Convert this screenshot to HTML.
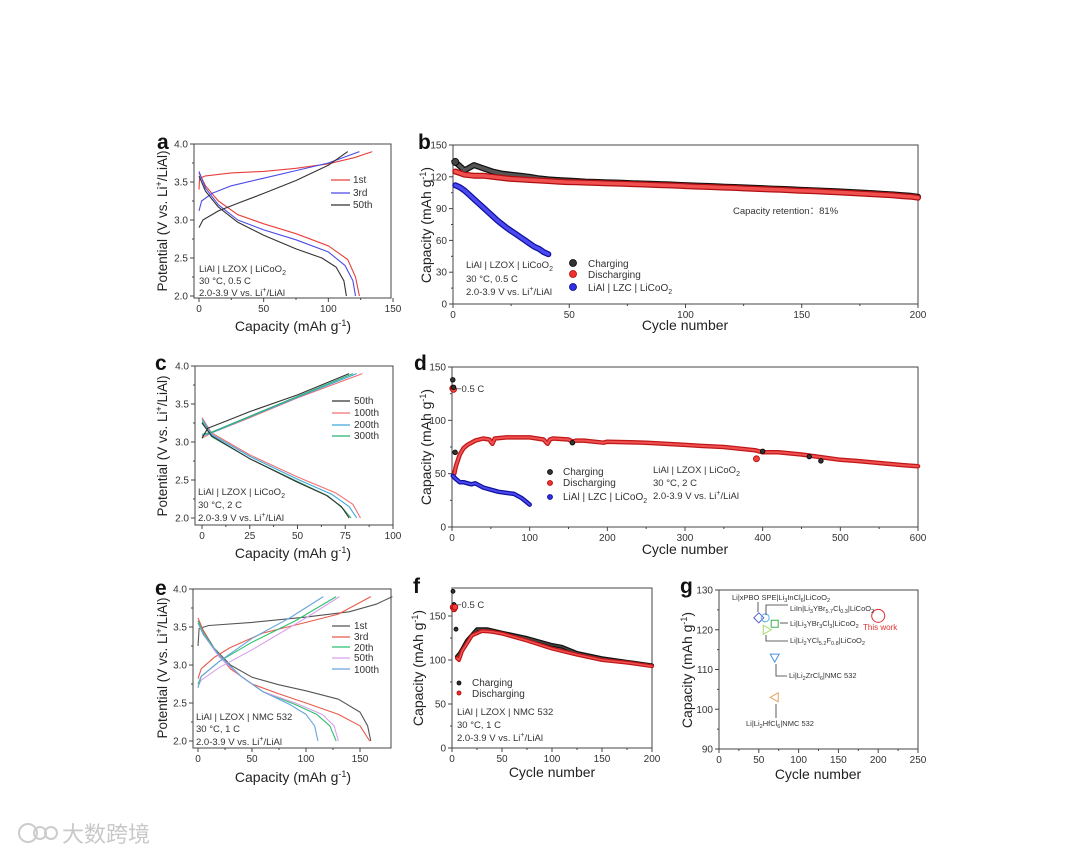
<!DOCTYPE html>
<html><head><meta charset="utf-8"><style>
html,body{margin:0;padding:0;background:#fff}
svg{display:block;font-family:"Liberation Sans","Noto Sans CJK SC",sans-serif}
.t{font-size:10px;fill:#333}
.ti{font-size:14px;fill:#222}
.tv{font-size:13.5px;fill:#222}
.an{font-size:9.5px;fill:#333}
.lg{font-size:10px;fill:#333}
.gl{font-size:7.5px;fill:#333}
.pl{font-size:21px;font-weight:bold;fill:#111}
</style></head><body>
<svg id="fig" width="1080" height="854" viewBox="0 0 1080 854" xmlns="http://www.w3.org/2000/svg">
<rect width="1080" height="854" fill="#fff"/>
<g id="layer"></g>
<text class="pl" x="157" y="149">a</text>
<text class="pl" x="418" y="149">b</text>
<text class="pl" x="155" y="370">c</text>
<text class="pl" x="414" y="370">d</text>
<text class="pl" x="155" y="595">e</text>
<text class="pl" x="413" y="593">f</text>
<text class="pl" x="680" y="593">g</text>
<text class="ti" x="293" y="331" text-anchor="middle">Capacity (mAh g<tspan dy="-5" font-size="9">-1</tspan><tspan dy="5">)</tspan></text>
<text class="ti" x="685" y="330" text-anchor="middle">Cycle number</text>
<text class="ti" x="293" y="558" text-anchor="middle">Capacity (mAh g<tspan dy="-5" font-size="9">-1</tspan><tspan dy="5">)</tspan></text>
<text class="ti" x="685" y="554" text-anchor="middle">Cycle number</text>
<text class="ti" x="293" y="782" text-anchor="middle">Capacity (mAh g<tspan dy="-5" font-size="9">-1</tspan><tspan dy="5">)</tspan></text>
<text class="ti" x="552" y="777" text-anchor="middle">Cycle number</text>
<text class="ti" x="818" y="779" text-anchor="middle">Cycle number</text>
<text class="tv" transform="translate(167,221) rotate(-90)" text-anchor="middle">Potential (V vs. Li<tspan dy="-5" font-size="9">+</tspan><tspan dy="5">/LiAl)</tspan></text>
<text class="ti" transform="translate(431,225) rotate(-90)" text-anchor="middle">Capacity (mAh g<tspan dy="-5" font-size="9">-1</tspan><tspan dy="5">)</tspan></text>
<text class="tv" transform="translate(167,446) rotate(-90)" text-anchor="middle">Potential (V vs. Li<tspan dy="-5" font-size="9">+</tspan><tspan dy="5">/LiAl)</tspan></text>
<text class="ti" transform="translate(431,447) rotate(-90)" text-anchor="middle">Capacity (mAh g<tspan dy="-5" font-size="9">-1</tspan><tspan dy="5">)</tspan></text>
<text class="tv" transform="translate(167,668) rotate(-90)" text-anchor="middle">Potential (V vs. Li<tspan dy="-5" font-size="9">+</tspan><tspan dy="5">/LiAl)</tspan></text>
<text class="ti" transform="translate(423,668) rotate(-90)" text-anchor="middle">Capacity (mAh g<tspan dy="-5" font-size="9">-1</tspan><tspan dy="5">)</tspan></text>
<text class="ti" transform="translate(692,670) rotate(-90)" text-anchor="middle">Capacity (mAh g<tspan dy="-5" font-size="9">-1</tspan><tspan dy="5">)</tspan></text>
<g class="an">
<text x="199" y="272">LiAl | LZOX | LiCoO<tspan dy="3" font-size="7">2</tspan></text>
<text x="199" y="284">30 °C, 0.5 C</text>
<text x="199" y="296">2.0-3.9 V vs. Li<tspan dy="-4" font-size="7">+</tspan><tspan dy="4">/LiAl</tspan></text>
</g>
<g class="an">
<text x="466" y="268">LiAl | LZOX | LiCoO<tspan dy="3" font-size="7">2</tspan></text>
<text x="466" y="282">30 °C, 0.5 C</text>
<text x="466" y="295">2.0-3.9 V vs. Li<tspan dy="-4" font-size="7">+</tspan><tspan dy="4">/LiAl</tspan></text>
</g>
<text class="an" x="733" y="214">Capacity retention：81%</text>
<g class="an">
<text x="198" y="495">LiAl | LZOX | LiCoO<tspan dy="3" font-size="7">2</tspan></text>
<text x="198" y="508">30 °C, 2 C</text>
<text x="198" y="521">2.0-3.9 V vs. Li<tspan dy="-4" font-size="7">+</tspan><tspan dy="4">/LiAl</tspan></text>
</g>
<g class="an">
<text x="653" y="473">LiAl | LZOX | LiCoO<tspan dy="3" font-size="7">2</tspan></text>
<text x="653" y="486">30 °C, 2 C</text>
<text x="653" y="499">2.0-3.9 V vs. Li<tspan dy="-4" font-size="7">+</tspan><tspan dy="4">/LiAl</tspan></text>
</g>
<text class="an" x="456" y="392">−0.5 C</text>
<g class="an">
<text x="196" y="720">LiAl | LZOX | NMC 532</text>
<text x="196" y="732">30 °C, 1 C</text>
<text x="196" y="745">2.0-3.9 V vs. Li<tspan dy="-4" font-size="7">+</tspan><tspan dy="4">/LiAl</tspan></text>
</g>
<g class="an">
<text x="457" y="715">LiAl | LZOX | NMC 532</text>
<text x="457" y="728">30 °C, 1 C</text>
<text x="457" y="741">2.0-3.9 V vs. Li<tspan dy="-4" font-size="7">+</tspan><tspan dy="4">/LiAl</tspan></text>
</g>
<text class="an" x="456" y="608">−0.5 C</text>
<g class="lg">
<text x="353" y="183">1st</text><text x="353" y="196">3rd</text><text x="353" y="208">50th</text>
</g>
<g class="lg">
<text x="588" y="267">Charging</text><text x="588" y="278">Discharging</text><text x="588" y="291">LiAl | LZC | LiCoO<tspan dy="3" font-size="7">2</tspan></text>
</g>
<g class="lg">
<text x="354" y="404">50th</text><text x="354" y="416">100th</text><text x="354" y="428">200th</text><text x="354" y="439">300th</text>
</g>
<g class="lg">
<text x="563" y="475">Charging</text><text x="563" y="486">Discharging</text><text x="563" y="500">LiAl | LZC | LiCoO<tspan dy="3" font-size="7">2</tspan></text>
</g>
<g class="lg">
<text x="354" y="629">1st</text><text x="354" y="640">3rd</text><text x="354" y="651">20th</text><text x="354" y="661">50th</text><text x="354" y="673">100th</text>
</g>
<g class="lg">
<text x="472" y="686">Charging</text><text x="472" y="697">Discharging</text>
</g>
<g class="gl">
<text x="732" y="600">Li|xPBO SPE|Li<tspan dy="2" font-size="5.5">3</tspan><tspan dy="-2">InCl</tspan><tspan dy="2" font-size="5.5">6</tspan><tspan dy="-2">|LiCoO</tspan><tspan dy="2" font-size="5.5">2</tspan></text>
<text x="790" y="611">LiIn|Li<tspan dy="2" font-size="5.5">3</tspan><tspan dy="-2">YBr</tspan><tspan dy="2" font-size="5.5">5.7</tspan><tspan dy="-2">Cl</tspan><tspan dy="2" font-size="5.5">0.3</tspan><tspan dy="-2">|LiCoO</tspan><tspan dy="2" font-size="5.5">2</tspan></text>
<text x="790" y="626">Li|Li<tspan dy="2" font-size="5.5">3</tspan><tspan dy="-2">YBr</tspan><tspan dy="2" font-size="5.5">3</tspan><tspan dy="-2">Cl</tspan><tspan dy="2" font-size="5.5">3</tspan><tspan dy="-2">|LiCoO</tspan><tspan dy="2" font-size="5.5">2</tspan></text>
<text x="790" y="643">Li|Li<tspan dy="2" font-size="5.5">2</tspan><tspan dy="-2">YCl</tspan><tspan dy="2" font-size="5.5">5.2</tspan><tspan dy="-2">F</tspan><tspan dy="2" font-size="5.5">0.8</tspan><tspan dy="-2">|LiCoO</tspan><tspan dy="2" font-size="5.5">2</tspan></text>
<text x="789" y="678">Li|Li<tspan dy="2" font-size="5.5">2</tspan><tspan dy="-2">ZrCl</tspan><tspan dy="2" font-size="5.5">6</tspan><tspan dy="-2">|NMC 532</tspan></text>
<text x="746" y="726">Li|Li<tspan dy="2" font-size="5.5">2</tspan><tspan dy="-2">HfCl</tspan><tspan dy="2" font-size="5.5">6</tspan><tspan dy="-2">|NMC 532</tspan></text>
<text x="863" y="630" fill="#e03030" style="fill:#e03030;font-size:8px">This work</text>
</g>
<g stroke="#333" stroke-width="0.8" fill="none">
<path d="M758 602V612"/><path d="M766 615V605H788"/><path d="M780 623H788"/><path d="M766 635V641H788"/><path d="M776 664V676H787"/><path d="M776 704V718"/>
</g>
<g fill="none" stroke="#ccc" stroke-width="2">
<circle cx="28" cy="833" r="9"/><circle cx="40" cy="833" r="6"/><circle cx="51" cy="833" r="6"/>
</g>
<text x="62" y="842" font-size="22" fill="#c8c8c8">大数跨境</text>
</svg>
<script>
const aXTicks=[0,50,100,150], aYTicks=[2.0,2.5,3.0,3.5,4.0];
const bXTicks=[0,50,100,150,200], bYTicks=[0,30,60,90,120,150];
const cXTicks=[0,25,50,75,100], cYTicks=[2.0,2.5,3.0,3.5,4.0];
const dXTicks=[0,100,200,300,400,500,600], dYTicks=[0,50,100,150];
const eXTicks=[0,50,100,150], eYTicks=[2.0,2.5,3.0,3.5,4.0];
const fXTicks=[0,50,100,150,200], fYTicks=[0,50,100,150];
const gXTicks=[0,50,100,150,200,250], gYTicks=[90,100,110,120,130];
const a1Charge=[[0,3.40],[0.5,3.55],[5,3.58],[25,3.62],[50,3.64],[75,3.68],[100,3.74],[120,3.82],[134,3.90]];
const a1Dis=[[0,3.62],[5,3.45],[15,3.25],[30,3.07],[50,2.95],[75,2.82],[100,2.66],[115,2.48],[121,2.25],[124,2.0]];
const a3Charge=[[0,3.12],[2,3.25],[10,3.35],[25,3.45],[50,3.55],[75,3.65],[100,3.75],[124,3.90]];
const a3Dis=[[0,3.64],[5,3.42],[15,3.20],[30,3.00],[50,2.87],[75,2.74],[100,2.58],[113,2.40],[119,2.2],[121,2.0]];
const a50Charge=[[0,2.90],[3,3.0],[15,3.12],[30,3.22],[50,3.35],[75,3.52],[100,3.72],[115,3.90]];
const a50Dis=[[0,3.58],[5,3.38],[15,3.17],[30,2.97],[50,2.80],[75,2.62],[95,2.50],[106,2.38],[112,2.2],[114,2.0]];
const c50Charge=[[0,3.05],[3,3.18],[15,3.30],[25,3.40],[50,3.62],[77,3.90]];
const c50Dis=[[0,3.25],[5,3.08],[25,2.78],[50,2.47],[65,2.30],[73,2.15],[77,2.0]];
const c100Charge=[[0,3.05],[5,3.12],[25,3.32],[50,3.58],[84,3.90]];
const c100Dis=[[0,3.32],[5,3.12],[25,2.83],[50,2.54],[70,2.33],[79,2.18],[83,2.0]];
const c200Charge=[[0,3.08],[5,3.12],[25,3.33],[50,3.59],[81,3.90]];
const c200Dis=[[0,3.30],[5,3.10],[25,2.81],[50,2.51],[68,2.31],[77,2.15],[81,2.0]];
const c300Charge=[[0,3.10],[5,3.13],[25,3.34],[50,3.60],[79,3.90]];
const c300Dis=[[0,3.27],[5,3.07],[25,2.78],[50,2.48],[66,2.29],[74,2.12],[78,2.0]];
const e1Charge=[[0,3.25],[1,3.48],[10,3.52],[50,3.56],[100,3.63],[140,3.70],[165,3.80],[180,3.90]];
const e1Dis=[[0,3.58],[5,3.45],[15,3.22],[30,3.00],[50,2.84],[75,2.74],[100,2.66],[130,2.55],[150,2.38],[157,2.2],[160,2.0]];
const e3Charge=[[0,2.82],[3,2.95],[15,3.10],[30,3.23],[60,3.42],[100,3.56],[130,3.67],[160,3.90]];
const e3Dis=[[0,3.62],[5,3.45],[15,3.20],[30,2.95],[50,2.75],[75,2.62],[100,2.50],[130,2.35],[150,2.2],[159,2.0]];
const e20Charge=[[0,2.75],[3,2.85],[20,3.05],[50,3.30],[90,3.58],[128,3.90]];
const e20Dis=[[0,3.58],[5,3.42],[20,3.12],[40,2.85],[60,2.65],[90,2.48],[110,2.35],[122,2.2],[128,2.0]];
const e50Charge=[[0,2.72],[3,2.80],[20,2.97],[50,3.20],[100,3.62],[131,3.90]];
const e50Dis=[[0,3.55],[5,3.40],[20,3.10],[40,2.85],[60,2.65],[90,2.50],[115,2.35],[126,2.2],[130,2.0]];
const e100Charge=[[0,2.70],[3,2.85],[20,3.05],[50,3.35],[85,3.62],[116,3.90]];
const e100Dis=[[0,3.55],[5,3.40],[20,3.12],[40,2.85],[60,2.65],[85,2.48],[100,2.35],[108,2.2],[111,2.0]];
const bCycles=[1,5,9,13,17,21,25,29,33,37,41,45,49,53,57,61,65,69,73,77,81,85,89,93,97,101,105,109,113,117,121,125,129,133,137,141,145,149,153,157,161,165,169,173,177,181,185,189,193,197,200];
const bDis=[125,122,121,121,120,119,118,117.5,117,116.5,116,115.5,115,114.8,114.5,114.2,114,113.7,113.4,113.1,112.8,112.5,112.2,111.9,111.5,111.1,110.8,110.5,110.1,109.8,109.5,109.1,108.8,108.4,108,107.7,107.3,106.9,106.6,106.2,105.8,105.4,105,104.5,104,103.5,103,102.5,101.8,101.2,100.3];
const bChg=[134,126,131,128,125,123,122,121,120,118.5,117.5,117,116.5,116,115.5,115.2,114.9,114.6,114.3,114,113.7,113.4,113.1,112.8,112.4,112,111.7,111.4,111,110.7,110.4,110,109.7,109.3,108.9,108.6,108.2,107.8,107.5,107.1,106.7,106.3,105.9,105.4,104.9,104.4,103.9,103.4,102.7,102.1,101.2];
const bLzcCycles=[1,3,5,7,9,11,13,15,17,19,21,23,25,27,29,31,33,35,37,39,41];
const bLzc=[112,110,107,103,99,95,91,87,83,79,75.5,72,69,66,63,60,57,54,52,49,47];
const dCycles=[1,2,3,5,10,15,20,30,40,48,52,55,70,100,118,123,126,130,150,155,160,170,195,200,250,300,320,350,390,400,420,450,470,500,520,550,580,600];
const dDis=[130,129,50,57,68,74,77,81,83,82,78,83,84,84,82,78,82,83,82,80,81,81,79,80,79,77,76,75,72,70,70,68,66,63,62,60,58,57];
const dChgCycles=[1,2,4,155,400,460,475];
const dChg=[138,131,70,79,71,66,62];
const dOutCycles=[392];
const dOut=[64];
const dLzcCycles=[1,5,10,15,20,25,30,40,50,60,70,80,85,90,95,100];
const dLzc=[48,45,42,42,41,40,41,37,35,33,32,31,29,27,24,21];
const fChgCycles=[1,2,3,4,5,8,15,25,35,50,75,100,110,125,150,175,200];
const fChg=[178,163,160,135,104,108,122,135,135,131,125,117,115,108,102,98,94];
const fDisCycles=[1,2,3,5,7,10,20,30,40,50,75,100,125,150,175,200];
const fDis=[160,158,160,102,100,110,128,133,132,130,122,113,106,100,97,93];
const gCycles=[50,58,70,60,70,70,200];
const gCaps=[123,123,121.5,120,113,103,123.5];
const gShapes=['diamond','circle','square','right','down','left','bigcircle'];
const gColors=['#5a5ad8','#5ab4e8','#3cb24a','#a6d86a','#4a92dc','#e8a060','#e03030'];

const NS='http://www.w3.org/2000/svg';
const layer=document.getElementById('layer');
function mk(tag,name,attrs,parent){
  const e=document.createElementNS(NS,tag);
  
  
  for(const k in attrs) e.setAttribute(k,attrs[k]);
  (parent||layer).appendChild(e);
  return e;
}
function panel(id,box,xd,xp,yd,yp,xt,yt,dec){
  const X=v=>xp[0]+(v-xd[0])*(xp[1]-xp[0])/(xd[1]-xd[0]);
  const Y=v=>yp[0]+(v-yd[0])*(yp[1]-yp[0])/(yd[1]-yd[0]);
  const g=mk('g',id+'-panel',{});
  const [l,t,r,b]=box;
  mk('rect',id+'-plot-frame',{x:l,y:t,width:r-l,height:b-t,fill:'none',stroke:'#444','stroke-width':1},g);
  xt.forEach((v,i)=>{
    const x=X(v);
    mk('line',id+'-x-tick',{x1:x,x2:x,y1:b,y2:b+4,stroke:'#444','stroke-width':1},g);
    const tx=mk('text',id+'-x-tick-label',{x:x,y:b+14,'text-anchor':'middle',class:'t'},g);
    tx.textContent=v;
    if(i<xt.length-1){const xm=X((v+xt[i+1])/2);
      mk('line',id+'-x-minor-tick',{x1:xm,x2:xm,y1:b,y2:b+2,stroke:'#444','stroke-width':1},g);}
  });
  yt.forEach((v,i)=>{
    const y=Y(v);
    mk('line',id+'-y-tick',{x1:l-4,x2:l,y1:y,y2:y,stroke:'#444','stroke-width':1},g);
    const ty=mk('text',id+'-y-tick-label',{x:l-6,y:y+3.5,'text-anchor':'end',class:'t'},g);
    ty.textContent=dec?v.toFixed(1):v;
    if(i<yt.length-1){const ym=Y((v+yt[i+1])/2);
      mk('line',id+'-y-minor-tick',{x1:l-2,x2:l,y1:ym,y2:ym,stroke:'#444','stroke-width':1},g);}
  });
  return {X,Y,g};
}
function curve(P,pts,color,name){
  const d=pts.map((p,i)=>(i?'L':'M')+P.X(p[0]).toFixed(1)+' '+P.Y(p[1]).toFixed(1)).join('');
  mk('path',name,{d:d,fill:'none',stroke:color,'stroke-width':1.1,'stroke-linejoin':'round'},P.g);
}
function band(P,xs,ys,fill,stroke,name,w){
  const d=xs.map((c,i)=>(i?'L':'M')+P.X(c).toFixed(1)+' '+P.Y(ys[i]).toFixed(1)).join('');
  mk('path',name+'-band',{d:d,fill:'none',stroke:stroke,'stroke-width':w||6,'stroke-linecap':'round','stroke-linejoin':'round'},P.g);
  mk('path',name+'-band-core',{d:d,fill:'none',stroke:fill,'stroke-width':(w||6)-2.5,'stroke-linecap':'round','stroke-linejoin':'round'},P.g);
}
function dots(P,xs,ys,fill,stroke,name,r){
  xs.forEach((c,i)=>{
    mk('circle',name,{cx:P.X(c),cy:P.Y(ys[i]),r:r||3,fill:fill,stroke:stroke,'stroke-width':0.8},P.g);
  });
}
function legLine(P,x1,x2,y,color,name){
  mk('line',name,{x1:x1,x2:x2,y1:y,y2:y,stroke:color,'stroke-width':1.3},P.g);
}
const ID={X:v=>v,Y:v=>v};
const RED='#e8413c',BLUE='#4a4ae8',BLK='#333';
const A=panel('a',[194,144,391,298],[0,150],[199,393],[4,2],[144,296],aXTicks,aYTicks,true);
curve(A,a1Charge,RED,'a-1st-charge');curve(A,a1Dis,RED,'a-1st-discharge');
curve(A,a3Charge,BLUE,'a-3rd-charge');curve(A,a3Dis,BLUE,'a-3rd-discharge');
curve(A,a50Charge,BLK,'a-50th-charge');curve(A,a50Dis,BLK,'a-50th-discharge');
legLine(A,331,350,180,RED,'a-legend-1st');legLine(A,331,350,193,BLUE,'a-legend-3rd');legLine(A,331,350,205,BLK,'a-legend-50th');
const B=panel('b',[453,145,918,304],[0,200],[453,918],[150,0],[145,304],bXTicks,bYTicks,false);
band(B,bCycles,bChg,'#555','#111','b-charging');
band(B,bCycles,bDis,'#f05050','#b01010','b-discharging');
band(B,bLzcCycles,bLzc,'#4a4af0','#1010a0','b-lzc');
dots(B,[1],[134],'#444','#000','b-charging-first',3.5);
dots({X:ID.X,Y:ID.Y,g:B.g},[573],[263],'#333','#000','b-legend-charging-marker',3.5);
dots({X:ID.X,Y:ID.Y,g:B.g},[573],[274],'#f03030','#a00','b-legend-discharging-marker',3.5);
dots({X:ID.X,Y:ID.Y,g:B.g},[573],[287],'#3030e0','#008','b-legend-lzc-marker',3.5);
const C=panel('c',[195,366,393,525],[0,100],[202,393],[4,2],[366,518],cXTicks,cYTicks,true);
const GREEN='#2fb070',SKY='#3aa8e0',PINK='#f07070';
curve(C,c100Charge,PINK,'c-100th-charge');curve(C,c100Dis,PINK,'c-100th-discharge');
curve(C,c200Charge,SKY,'c-200th-charge');curve(C,c200Dis,SKY,'c-200th-discharge');
curve(C,c300Charge,GREEN,'c-300th-charge');curve(C,c300Dis,GREEN,'c-300th-discharge');
curve(C,c50Charge,BLK,'c-50th-charge');curve(C,c50Dis,BLK,'c-50th-discharge');
legLine(C,332,350,401,BLK,'c-legend-50th');legLine(C,332,350,413,PINK,'c-legend-100th');legLine(C,332,350,425,SKY,'c-legend-200th');legLine(C,332,350,436,GREEN,'c-legend-300th');
const D=panel('d',[452,367,918,527],[0,600],[452,918],[150,0],[367,527],dXTicks,dYTicks,false);
band(D,dCycles.slice(2),dDis.slice(2),'#f05050','#c01818','d-discharging',4.5);
dots(D,dCycles.slice(0,2),dDis.slice(0,2),'#f04040','#a00','d-discharging-0p5c',3);
dots(D,dChgCycles,dChg,'#333','#000','d-charging',2.3);
dots(D,dOutCycles,dOut,'#f04040','#a00','d-discharging-outlier',3);
band(D,dLzcCycles,dLzc,'#4a4af0','#1010a0','d-lzc',4.5);
dots({X:ID.X,Y:ID.Y,g:D.g},[550],[472],'#333','#000','d-legend-charging-marker',2.5);
dots({X:ID.X,Y:ID.Y,g:D.g},[550],[483],'#f03030','#a00','d-legend-discharging-marker',2.5);
dots({X:ID.X,Y:ID.Y,g:D.g},[550],[497],'#3030e0','#008','d-legend-lzc-marker',2.5);
const E=panel('e',[193,589,391,748],[0,150],[198,360],[4,2],[589,741],eXTicks,eYTicks,true);
const E1='#555',E3='#e85a4a',E20='#2cc070',E50='#d8a0ec',E100='#6aa4dc';
curve(E,e1Charge,E1,'e-1st-charge');curve(E,e1Dis,E1,'e-1st-discharge');
curve(E,e3Charge,E3,'e-3rd-charge');curve(E,e3Dis,E3,'e-3rd-discharge');
curve(E,e20Charge,E20,'e-20th-charge');curve(E,e20Dis,E20,'e-20th-discharge');
curve(E,e50Charge,E50,'e-50th-charge');curve(E,e50Dis,E50,'e-50th-discharge');
curve(E,e100Charge,E100,'e-100th-charge');curve(E,e100Dis,E100,'e-100th-discharge');
legLine(E,332,350,626,E1,'e-legend-1st');legLine(E,332,350,637,E3,'e-legend-3rd');legLine(E,332,350,647,E20,'e-legend-20th');legLine(E,332,350,658,E50,'e-legend-50th');legLine(E,332,350,669,E100,'e-legend-100th');
const F=panel('f',[452,588,652,748],[0,200],[452,652],[0,150],[748,616],fXTicks,fYTicks,false);
band(F,fChgCycles.slice(4),fChg.slice(4),'#444','#111','f-charging',4);
band(F,fDisCycles.slice(3),fDis.slice(3),'#f05050','#c01818','f-discharging',4);
dots(F,fChgCycles.slice(0,4),fChg.slice(0,4),'#333','#000','f-charging-early',2);
dots(F,fDisCycles.slice(0,3),fDis.slice(0,3),'#f04040','#a00','f-discharging-early',2.8);
dots({X:ID.X,Y:ID.Y,g:F.g},[459],[683],'#333','#000','f-legend-charging-marker',2);
dots({X:ID.X,Y:ID.Y,g:F.g},[459],[693],'#f03030','#a00','f-legend-discharging-marker',2);
const G=panel('g',[719,590,918,749],[0,250],[719,918],[90,130],[749,590],gXTicks,gYTicks,false);
gCycles.forEach((c,i)=>{
  const x=G.X(c),y=G.Y(gCaps[i]),s=gShapes[i],col=gColors[i];
  const st={fill:'none',stroke:col,'stroke-width':1};
  let d;
  if(s==='diamond') d=`M${x} ${y-5}L${x+5} ${y}L${x} ${y+5}L${x-5} ${y}Z`;
  else if(s==='square') d=`M${x-3.5} ${y-3.5}h7v7h-7Z`;
  else if(s==='right') d=`M${x-3.5} ${y-4.5}L${x+4.5} ${y}L${x-3.5} ${y+4.5}Z`;
  else if(s==='left') d=`M${x+3.5} ${y-4.5}L${x-4.5} ${y}L${x+3.5} ${y+4.5}Z`;
  else if(s==='down') d=`M${x-4.5} ${y-3.5}L${x+4.5} ${y-3.5}L${x} ${y+4.5}Z`;
  if(d){st.d=d;mk('path','g-point-'+s,st,G.g);}
  else {st.cx=x;st.cy=y;st.r=s==='bigcircle'?6.5:4;mk('circle','g-point-'+s,st,G.g);}
});
</script>
</body></html>
